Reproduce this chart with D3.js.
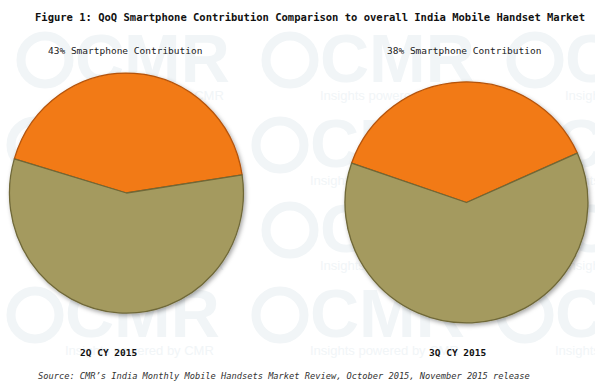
<!DOCTYPE html>
<html>
<head>
<meta charset="utf-8">
<script src="https://cdn.jsdelivr.net/npm/d3@7"></script>
<style>
  body { margin: 0; background: #fff; }
  svg { display: block; }
</style>
</head>
<body>
<div class="mainContainer"></div>
<script>
// data
const quarters = ['2Q CY 2015', '3Q CY 2015'];
const segments = ['Smartphone', 'Feature phone'];
const smartphoneShare = [43, 38];
const featureShare = [57, 62];

const width = 595;
const height = 390;
const colors = d3.scaleOrdinal().domain(segments).range(['#f27a12', '#a49a5f']);
const edges = d3.scaleOrdinal().domain(segments).range(['#b3520a', '#6f6838']);

// pie placement (cx, cy, rx, ry, rotation in degrees)
const pieLayout = [
  {cx: 126.5, cy: 193, rx: 117, ry: 120, rot: 286.5},
  {cx: 466.5, cy: 202.5, rx: 121.5, ry: 120.5, rot: 289}
];

const svg = d3.select('.mainContainer')
  .append('svg')
  .attr('width', width)
  .attr('height', height);

const defs = svg.append('defs');
const shadow = defs.append('filter').attr('id', 'shadow')
  .attr('x', '-10%').attr('y', '-10%').attr('width', '120%').attr('height', '120%');
shadow.append('feDropShadow')
  .attr('dx', 1.5).attr('dy', 2).attr('stdDeviation', 2)
  .attr('flood-color', '#000').attr('flood-opacity', 0.35);

// faint tiled watermark
const wm = svg.append('g').attr('fill', '#f1f5f7');
const rows = [70, 155, 240, 325];
const cols = [-180, 65, 310, 555];
rows.forEach((y, ri) => {
  cols.forEach((x) => {
    const ox = x + (ri % 2 ? 0 : 10);
    wm.append('circle')
      .attr('cx', ox - 30).attr('cy', y - 10).attr('r', 24)
      .attr('fill', 'none').attr('stroke', '#f1f5f7').attr('stroke-width', 9);
    wm.append('text')
      .attr('x', ox).attr('y', y + 12)
      .style('font-family', 'Liberation Sans, Arial, sans-serif')
      .style('font-weight', 'bold')
      .style('font-size', '68px')
      .text('CMR');
    wm.append('text')
      .attr('x', ox).attr('y', y + 30)
      .style('font-family', 'Liberation Sans, Arial, sans-serif')
      .style('font-size', '13px')
      .text('Insights powered by CMR');
  });
});

svg.append('text')
  .attr('x', 35)
  .attr('y', 21)
  .style('font-family', 'DejaVu Sans Mono, monospace')
  .style('font-weight', 'bold')
  .style('font-size', '10.5px')
  .attr('fill', '#111')
  .text('Figure 1: QoQ Smartphone Contribution Comparison to overall India Mobile Handset Market');

const subX = [48, 387];
const labelX = [80, 429];

quarters.forEach((q, i) => {
  const lay = pieLayout[i];
  const data = [
    {entry: segments[0], value: smartphoneShare[i]},
    {entry: segments[1], value: featureShare[i]}
  ];
  const start = lay.rot * Math.PI / 180;
  const pie = d3.pie().sort(null).value((d) => d.value)
    .startAngle(start).endAngle(start + 2 * Math.PI);
  const arc = d3.arc().innerRadius(0).outerRadius(1);

  const g = svg.append('g')
    .attr('filter', 'url(#shadow)')
    .append('g')
    .attr('transform', 'translate(' + lay.cx + ',' + lay.cy + ') scale(' + lay.rx + ',' + lay.ry + ')');

  g.selectAll('path')
    .data(pie(data))
    .enter()
    .append('path')
    .attr('d', arc)
    .attr('fill', (d) => colors(d.data.entry))
    .attr('stroke', (d) => edges(d.data.entry))
    .attr('stroke-width', 1.3 / lay.ry)
    .attr('stroke-linejoin', 'round');

  svg.append('text')
    .attr('x', subX[i])
    .attr('y', 54)
    .style('font-family', 'DejaVu Sans Mono, monospace')
    .style('font-size', '9.5px')
    .attr('fill', '#222')
    .text(smartphoneShare[i] + '% Smartphone Contribution');

  svg.append('text')
    .attr('x', labelX[i])
    .attr('y', 356)
    .style('font-family', 'DejaVu Sans Mono, monospace')
    .style('font-weight', 'bold')
    .style('font-size', '9.5px')
    .attr('fill', '#111')
    .text(q);
});

svg.append('text')
  .attr('x', 38)
  .attr('y', 379)
  .style('font-family', 'DejaVu Sans Mono, monospace')
  .style('font-style', 'italic')
  .style('font-size', '8.7px')
  .attr('fill', '#333')
  .text('Source: CMR\u2019s India Monthly Mobile Handsets Market Review, October 2015, November 2015 release');
</script>
</body>
</html>
